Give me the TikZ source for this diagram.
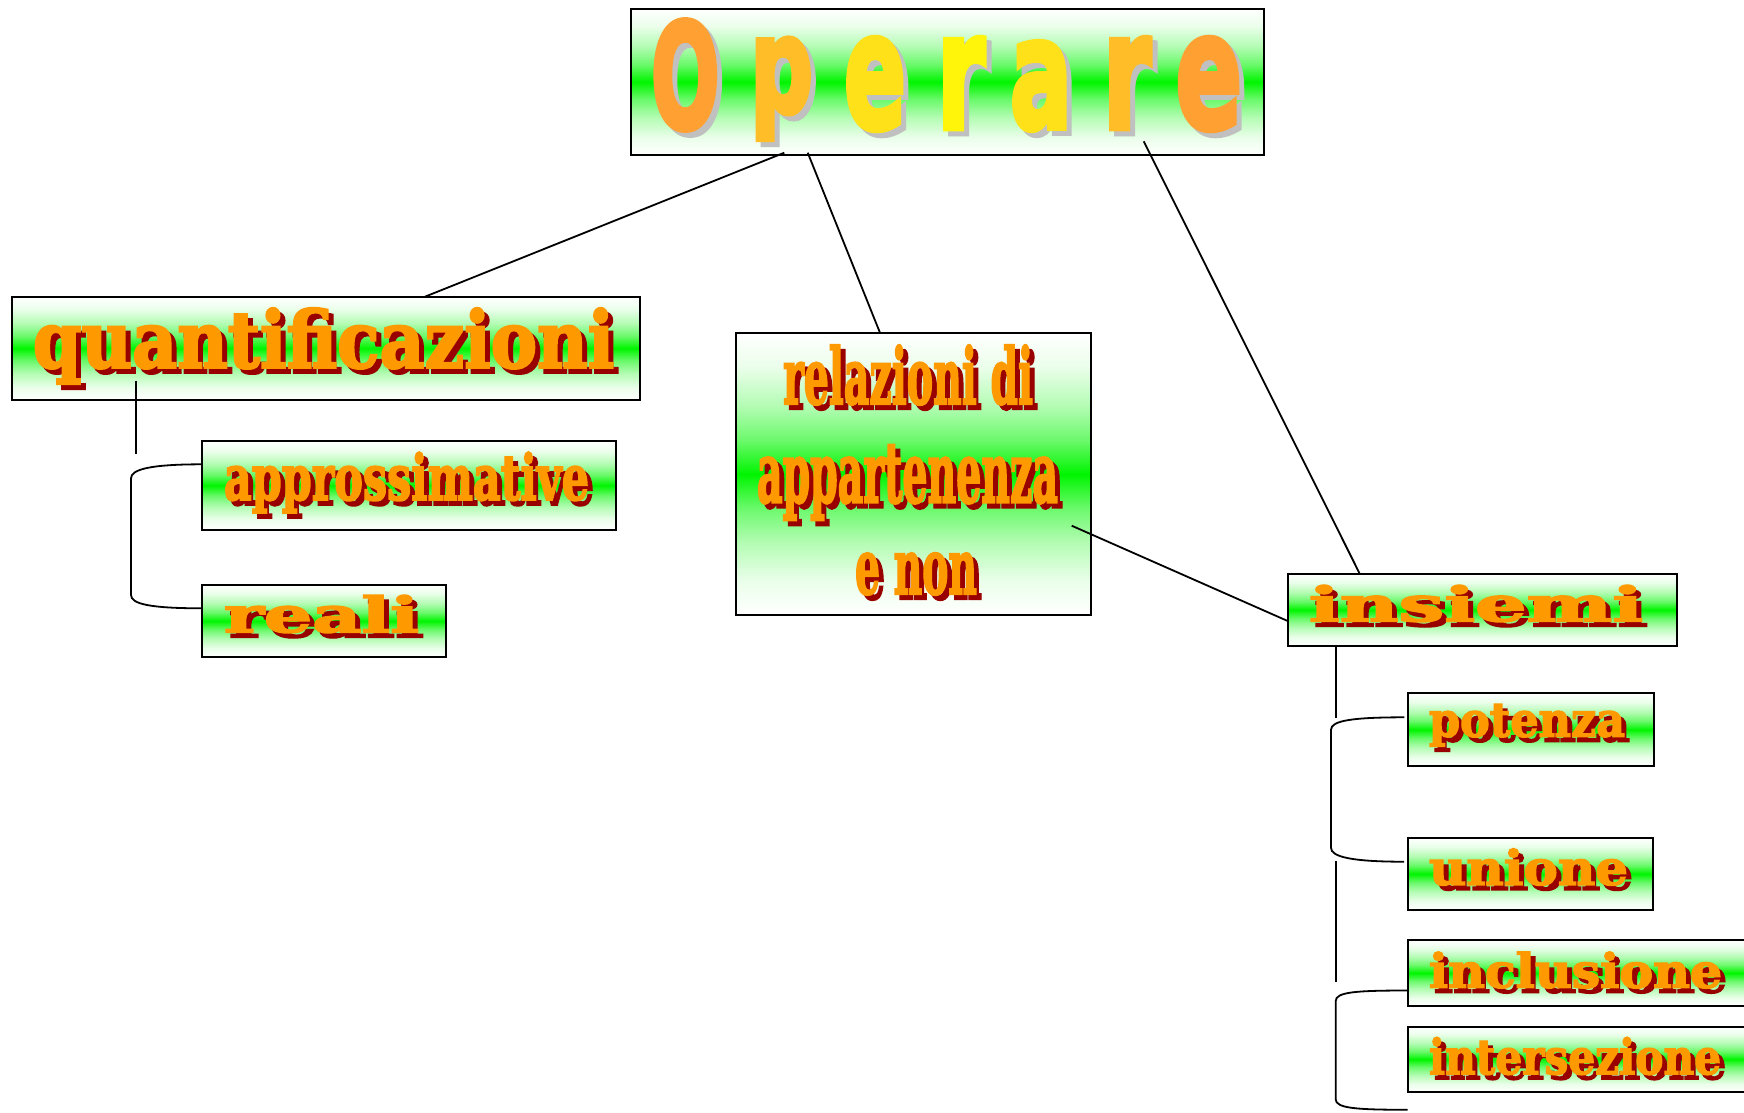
\documentclass[tikz,border=0pt]{standalone}
\usepackage{fontspec}
\usetikzlibrary{calc}
\newfontfamily\wordfont{DejaVu Serif}[BoldFeatures={FakeBold=3}]
\newfontfamily\opfont{DejaVu Sans}[BoldFeatures={FakeBold=4}]
\definecolor{wordorange}{RGB}{255,153,0}
\definecolor{wordshadow}{RGB}{153,0,0}
\definecolor{boxgreen}{RGB}{0,245,0}
\definecolor{opshadowc}{RGB}{192,192,192}
\definecolor{opA}{RGB}{255,160,50}
\definecolor{opB}{RGB}{255,190,40}
\definecolor{opC}{RGB}{255,225,25}
\definecolor{opD}{RGB}{255,245,10}
\pgfdeclareverticalshading{greenband}{100bp}{%
  color(0bp)=(white); color(25bp)=(white); color(31bp)=(white!92!boxgreen);
  color(38bp)=(white!70!boxgreen); color(44bp)=(white!42!boxgreen); color(50bp)=(boxgreen);
  color(56bp)=(white!42!boxgreen); color(62bp)=(white!70!boxgreen);
  color(69bp)=(white!92!boxgreen); color(75bp)=(white); color(100bp)=(white)}
\tikzset{
  greenbox/.style={draw=black, line width=2pt, shading=greenband, inner sep=0pt, outer sep=0pt},
  link/.style={draw=black, line width=1.8pt},
  wordtxt/.style={inner sep=0pt, outer sep=0pt, text=wordorange, font=\wordfont\bfseries},
  wordshad/.style={inner sep=0pt, outer sep=0pt, text=wordshadow, font=\wordfont\bfseries},
  optxt/.style={inner sep=0pt, outer sep=0pt, font=\opfont\bfseries},
  opshad/.style={inner sep=0pt, outer sep=0pt, text=opshadowc, font=\opfont\bfseries},
}
\newcommand\artword[6]{%
  \node[wordshad] (#1-s) at ({#2+5},{#3+5}) {\resizebox*{#4pt}{#5pt}{#6}};
  \node[wordtxt] (#1) at (#2,#3) {\resizebox*{#4pt}{#5pt}{#6}};}
\newcommand\opletter[7]{%
  \node[opshad] (#1-s) at ({#2+5},{#3+5}) {\resizebox*{#4pt}{#5pt}{#7}};
  \node[optxt, text=#6] (#1) at (#2,#3) {\resizebox*{#4pt}{#5pt}{#7}};}
\begin{document}
\begin{tikzpicture}[x=1pt, y=-1pt]
\useasboundingbox (0,0) rectangle (1744,1112);
\fill[white] (0,0) rectangle (1744,1112);

% boxes
\node[greenbox, minimum width=633pt, minimum height=146.8pt] (op) at (947.5,81.9) {};
\node[greenbox, minimum width=627.6pt, minimum height=103.3pt] (quant) at (326.2,348.35) {};
\node[greenbox, minimum width=414pt, minimum height=89.3pt] (ax) at (409.3,485.35) {};
\node[greenbox, minimum width=243.4pt, minimum height=72.6pt] (re) at (324,621) {};
\node[greenbox, minimum width=355pt, minimum height=281.7pt] (rel) at (913.2,474.15) {};
\node[greenbox, minimum width=389pt, minimum height=72.3pt] (ins) at (1482.2,609.85) {};
\node[greenbox, minimum width=246.3pt, minimum height=72.7pt] (pot) at (1530.85,729.65) {};
\node[greenbox, minimum width=245.3pt, minimum height=72.3pt] (uni) at (1530.35,873.85) {};
\node[greenbox, minimum width=352.3pt, minimum height=66pt] (inc) at (1583.85,973) {};
\node[greenbox, minimum width=352.3pt, minimum height=65.5pt] (int) at (1583.85,1059.25) {};

% title letters
\opletter{o1}{685.25}{75}{68.5}{110}{opA}{O}
\opletter{o2}{781.5}{88.75}{63}{101.5}{opB}{p}
\opletter{o3}{875}{84}{62}{92}{opC}{e}
\opletter{o4}{961}{83}{48}{90}{opD}{r}
\opletter{o5}{1041}{86}{62}{88}{opC}{a}
\opletter{o6}{1127}{83}{48}{90}{opB}{r}
\opletter{o7}{1208.75}{84}{66.5}{92}{opA}{e}

% words
\artword{tquant}{323.5}{346}{581}{76}{quantificazioni}
\artword{tax}{406.5}{482.5}{365}{61}{approssimative}
\artword{tre}{321.5}{614}{195}{38}{reali}
\artword{trel1}{908}{375}{250}{60}{relazioni di}
\artword{trel2}{907.5}{482.5}{301}{75}{appartenenza}
\artword{trel3}{916}{574}{122}{42}{e non}
\artword{tins}{1476}{603.5}{334}{37}{insiemi}
\artword{tpot}{1527}{725.25}{196}{42.5}{potenza}
\artword{tuni}{1528.5}{867}{199}{37}{unione}
\artword{tinc}{1575.5}{970}{293}{36.6}{inclusione}
\artword{tint}{1575}{1056}{292}{37.7}{intersezione}

% connectors
\draw[link] ($(op.south west)+(153.3,-2.6)$) -- ($(quant.north west)+(412.6,0)$);
\draw[link] ($(op.south west)+(176.7,-2.6)$) -- ($(rel.north west)+(144.5,0)$);
\draw[link] ($(op.south west)+(512.7,-14)$) -- ($(ins.north west)+(72,0)$);
\draw[link] ($(rel.north west)+(336,192.4)$) -- ($(ins.west)+(0,11.15)$);

\draw[link] ($(quant.south west)+(123.2,-19.3)$) -- ($(quant.south west)+(123.2,54)$);
\draw[link] ($(ax.west)+(0,-21.05)$) .. controls +(-52,0) and +(0,-9) .. ($(ax.west)+(-71.3,-7)$)
  -- ($(re.west)+(-71.3,-26)$) .. controls +(0,9) and +(-52,0) .. ($(re.west)+(0,-12.7)$);

\draw[link] ($(ins.south west)+(48.6,0)$) -- ($(ins.south west)+(48.6,72.3)$);
\draw[link] ($(pot.west)+(-3.4,-12.35)$) .. controls +(-52,0) and +(0,-9) .. ($(pot.west)+(-76.7,0)$)
  -- ($(uni.west)+(-76.7,-26)$) .. controls +(0,9) and +(-52,0) .. ($(uni.west)+(-3.7,-12.15)$);
\draw[link] ($(uni.south west)+(-72,-49)$) -- ($(uni.south west)+(-72,71.7)$);
\draw[link] ($(inc.west)+(0,17.5)$) .. controls +(-52,0) and +(0,-9) .. ($(inc.west)+(-72,28)$)
  -- ($(int.west)+(-72,40)$) .. controls +(0,9) and +(-52,0) .. ($(int.west)+(0,50.5)$);
\end{tikzpicture}
\end{document}
